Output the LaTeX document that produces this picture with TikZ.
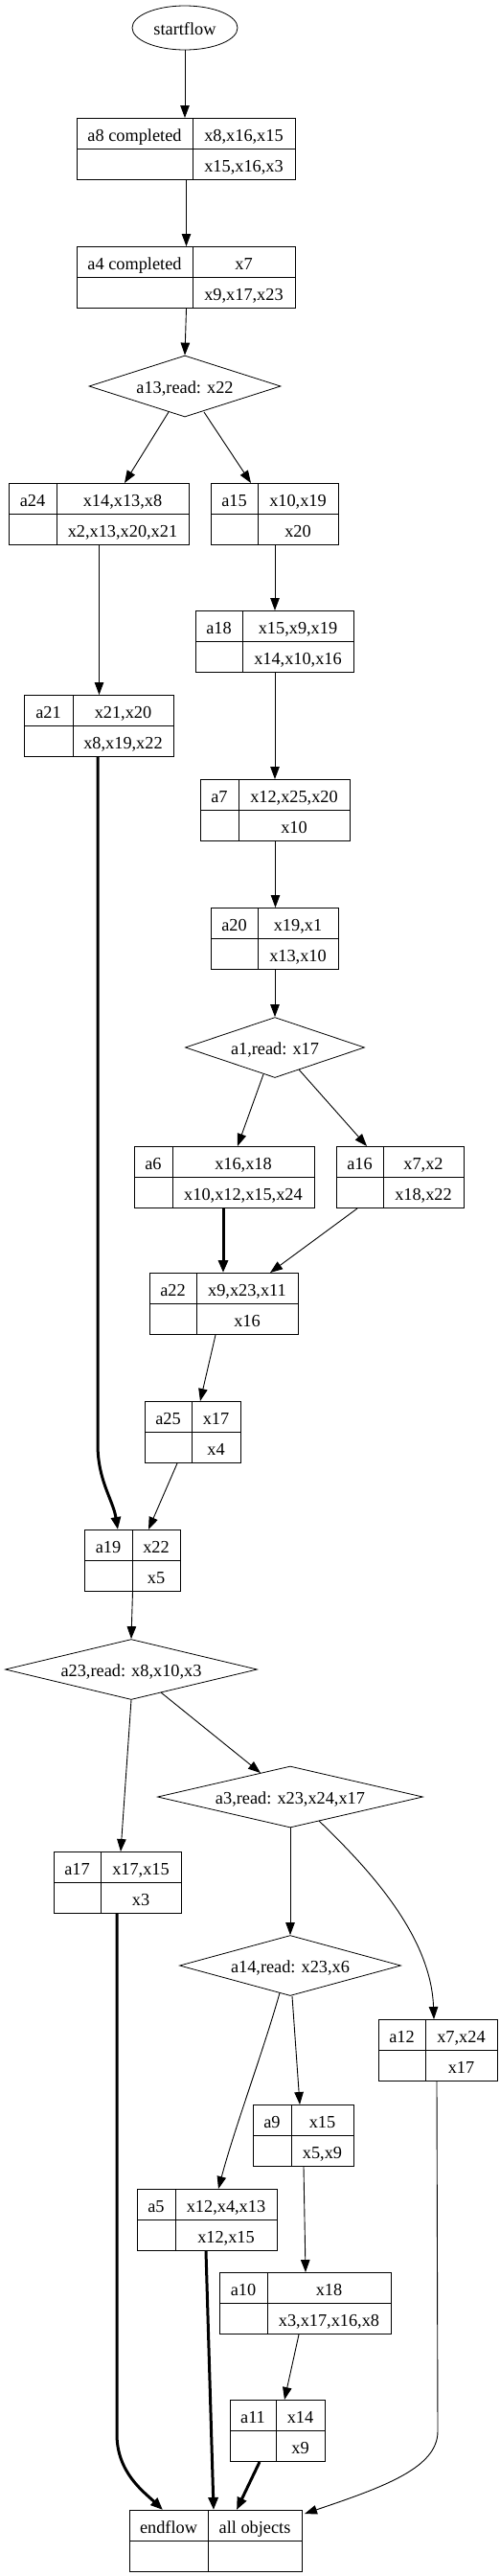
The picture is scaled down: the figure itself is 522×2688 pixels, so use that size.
\documentclass[tikz,border=0pt]{standalone}
\usepackage{fontspec}
\setmainfont{Liberation Serif}
\usetikzlibrary{shapes.geometric,arrows.meta,calc}
\tikzset{
  recframe/.style={draw, rectangle, minimum height=64pt, inner sep=0pt, line width=1pt},
  recline/.style={line width=1pt},
  txt/.style={anchor=base, inner sep=0pt, font=\fontsize{18.3}{22}\selectfont},
  decframe/.style={draw, diamond, inner sep=0pt, line width=0.8pt},
  edge/.style={line width=0.9pt, -{Triangle[length=13pt,width=9.5pt]}},
  thickedge/.style={line width=3pt, -{Triangle[length=13pt,width=10pt]}},
}
\newcommand\recbox[8]{%
  \pgfmathsetmacro\rbw{#4-(#2)}%
  \node[recframe, minimum width=\rbw pt, anchor=north west] (#1) at (#2,#3) {};
  \draw[recline] (#1.west) -- (#1.east);
  \coordinate (#1d) at (#5,#3);
  \draw[recline] (#1d) -- (#1d |- #1.south);
  \pgfmathsetmacro\rbl{(#2+#5)/2}%
  \pgfmathsetmacro\rbr{(#5+#4)/2}%
  \node[txt] (#1l) at (\rbl,#3+24) {#6};
  \node[txt] (#1t) at (\rbr,#3+24) {#7};
  \node[txt] (#1b) at (\rbr,#3+56) {#8};
}
\newcommand\decnode[6]{%
  \node[decframe, minimum width=#4pt, minimum height=#5pt] (#1) at (#2,#3) {};
  \node[txt] (#1t) at (#2,#3+7.5) {#6};
}
\begin{document}
\begin{tikzpicture}[x=1pt,y=-1pt]
\useasboundingbox (0,0) rectangle (522,2688);
% start
\node[draw, ellipse, minimum width=110pt, minimum height=46pt, inner sep=0pt, line width=0.8pt] (startflow) at (193,29) {};
\node[txt] (startflowt) at (193,36.5) {startflow};
% records
\recbox{a8}{80}{123}{308}{201}{a8 completed}{x8,x16,x15}{x15,x16,x3}
\recbox{a4}{80}{257}{308}{201}{a4 completed}{x7}{x9,x17,x23}
\recbox{a24}{9}{504}{197}{59}{a24}{x14,x13,x8}{x2,x13,x20,x21}
\recbox{a15}{220}{504}{353}{269}{a15}{x10,x19}{x20}
\recbox{a18}{204}{637}{369}{253}{a18}{x15,x9,x19}{x14,x10,x16}
\recbox{a21}{25}{725}{181}{76}{a21}{x21,x20}{x8,x19,x22}
\recbox{a7}{209}{813}{365}{249}{a7}{x12,x25,x20}{x10}
\recbox{a20}{220}{947}{353}{269}{a20}{x19,x1}{x13,x10}
\recbox{a6}{140}{1196}{328}{180}{a6}{x16,x18}{x10,x12,x15,x24}
\recbox{a16}{351}{1196}{484}{400}{a16}{x7,x2}{x18,x22}
\recbox{a22}{156}{1328}{311}{205}{a22}{x9,x23,x11}{x16}
\recbox{a25}{151}{1462}{251}{200}{a25}{x17}{x4}
\recbox{a19}{88}{1596}{188}{138}{a19}{x22}{x5}
\recbox{a17}{56}{1932}{189}{105}{a17}{x17,x15}{x3}
\recbox{a12}{395}{2107}{519}{444}{a12}{x7,x24}{x17}
\recbox{a9}{264}{2196}{369}{304}{a9}{x15}{x5,x9}
\recbox{a5}{143}{2284}{289}{183}{a5}{x12,x4,x13}{x12,x15}
\recbox{a10}{229}{2371}{408}{279}{a10}{x18}{x3,x17,x16,x8}
\recbox{a11}{240}{2504}{339}{288}{a11}{x14}{x9}
\recbox{endflow}{135}{2619}{315}{217}{endflow}{all objects}{}
% decisions
\decnode{a13}{193}{403}{200}{64}{a13,read: x22}
\decnode{a1}{287}{1093}{187}{63}{a1,read: x17}
\decnode{a23}{137}{1742}{263}{63}{a23,read: x8,x10,x3}
\decnode{a3}{303}{1875}{277}{64}{a3,read: x23,x24,x17}
\decnode{a14}{303}{2051}{231}{63}{a14,read: x23,x6}
% edges
\draw[edge] (startflow.south) -- (startflow.south |- a8.north);
\draw[edge] (a8.south) -- (a8.south |- a4.north);
\draw[edge] (a4.south) -- (a13.north);
\draw[edge] ($(a13.center)+(-17,27)$) -- ($(a24.north west)+(121,0)$);
\draw[edge] ($(a13.center)+(20,27)$) -- ($(a15.north west)+(42,0)$);
\draw[edge] (a24.south) -- (a24.south |- a21.north);
\draw[edge] (a15.south) -- (a15.south |- a18.north);
\draw[edge] (a18.south) -- (a18.south |- a7.north);
\draw[edge] (a7.south) -- (a7.south |- a20.north);
\draw[edge] (a20.south) -- (a1.north);
\draw[edge] ($(a1.center)+(-12,28)$) -- ($(a6.north west)+(108,0)$);
\draw[edge] ($(a1.center)+(25,23)$) -- ($(a16.north west)+(32,0)$);
\draw[thickedge] ($(a21.south west)+(77,0)$) -- ($(a19.north west)+(14,-89)$)
  .. controls ($(a19.north west)+(14,-51)$) and ($(a19.north west)+(30,-31)$) .. ($(a19.north west)+(35,0)$);
\draw[thickedge] ($(a6.south west)+(93,0)$) -- ($(a22.north west)+(77,0)$);
\draw[edge] ($(a16.south west)+(22,0)$) -- ($(a22.north west)+(126,0)$);
\draw[edge] ($(a22.south west)+(69,0)$) -- ($(a25.north west)+(58,0)$);
\draw[edge] ($(a25.south west)+(34,0)$) -- ($(a19.north west)+(67,0)$);
\draw[edge] (a19.south) -- (a23.north);
\draw[edge] (a23.south) -- ($(a17.north west)+(70,0)$);
\draw[edge] ($(a23.center)+(31,24)$) -- ($(a3.center)+(-31,-25)$);
\draw[edge] (a3.south) -- (a14.north);
\draw[edge] ($(a3.center)+(30,25)$) .. controls ($(a12.north west)+(-10,-157)$) and ($(a12.north west)+(55,-87)$) .. ($(a12.north west)+(58,0)$);
\draw[edge] ($(a14.center)+(-11,28.5)$) .. controls ($(a5.north west)+(132,-144)$) and ($(a5.north west)+(102,-64)$) .. ($(a5.north west)+(85,0)$);
\draw[edge] ($(a14.south)+(2,0)$) -- ($(a9.north west)+(49,0)$);
\draw[edge] ($(a9.south west)+(53,0)$) -- ($(a10.north west)+(90,0)$);
\draw[edge] ($(a10.south west)+(83,0)$) -- ($(a11.north west)+(57,0)$);
\draw[thickedge] ($(a5.south west)+(72,0)$) -- ($(endflow.north west)+(88,0)$);
\draw[thickedge] ($(a11.south west)+(31,0)$) -- ($(endflow.north west)+(112,0)$);
\draw[thickedge] ($(a17.south west)+(66,0)$) -- ($(endflow.north west)+(-13,-79)$)
  .. controls ($(endflow.north west)+(-13,-39)$) and ($(endflow.north west)+(15,-19)$) .. ($(endflow.north west)+(35,0)$);
\draw[edge] ($(a12.south west)+(61,0)$) -- ($(endflow.north east)+(141,-82)$)
  .. controls ($(endflow.north east)+(141,-44)$) and ($(endflow.north east)+(85,-24)$) .. ($(endflow.north east)+(2,4)$);
\end{tikzpicture}
\end{document}
